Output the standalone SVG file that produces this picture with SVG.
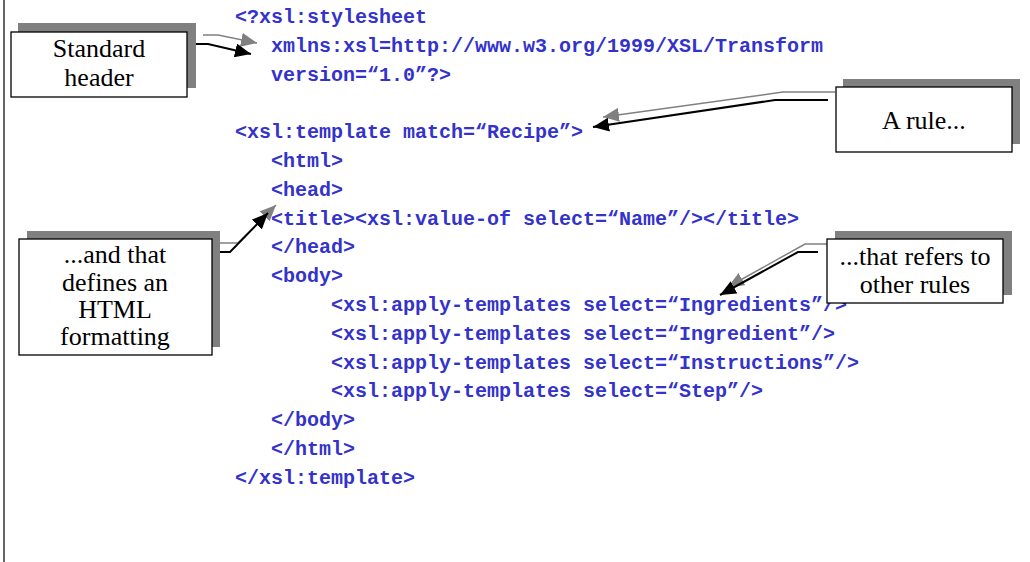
<svg xmlns="http://www.w3.org/2000/svg" width="1030" height="562" viewBox="0 0 1030 562">
  <style>
    .code { font-family: "Liberation Mono", "Courier New", monospace; font-weight: bold; font-size: 20px; fill: #3333cc; white-space: pre; }
    .shadow { fill: #808080; }
    .box { fill: #ffffff; stroke: #000000; stroke-width: 1.3; }
    .label { font-family: "Liberation Serif", "Times New Roman", serif; font-size: 26px; fill: #000000; text-anchor: middle; }
    .lnk-gray { fill: none; stroke: #808080; stroke-width: 1.5; marker-end: url(#headGray); }
    .lnk-black { fill: none; stroke: #000000; stroke-width: 2; marker-end: url(#headBlack); }
  </style>
  <defs>
    <marker id="headGray" markerUnits="userSpaceOnUse" markerWidth="18" markerHeight="14" refX="16" refY="7" orient="auto">
      <path d="M0,0 L16,7 L0,14 Z" fill="#808080"/>
    </marker>
    <marker id="headBlack" markerUnits="userSpaceOnUse" markerWidth="18" markerHeight="14" refX="16" refY="7" orient="auto">
      <path d="M0,0 L16,7 L0,14 Z" fill="#000000"/>
    </marker>
  </defs>

  <rect width="1030" height="562" fill="#ffffff"/>
  <!-- left frame edge -->
  <line x1="4" y1="0" x2="4" y2="562" stroke="#000000" stroke-width="1.2"/>

  <!-- stylesheet listing -->
  <g id="code">
    <text class="code" x="235" y="23">&lt;?xsl:stylesheet</text>
    <text class="code" x="271" y="51.8">xmlns:xsl=http://www.w3.org/1999/XSL/Transform</text>
    <text class="code" x="271" y="80.6">version=“1.0”?&gt;</text>
    <text class="code" x="235" y="138.2">&lt;xsl:template match=“Recipe”&gt;</text>
    <text class="code" x="271" y="167">&lt;html&gt;</text>
    <text class="code" x="271" y="195.8">&lt;head&gt;</text>
    <text class="code" x="271" y="224.6">&lt;title&gt;&lt;xsl:value-of select=“Name”/&gt;&lt;/title&gt;</text>
    <text class="code" x="271" y="253.4">&lt;/head&gt;</text>
    <text class="code" x="271" y="282.2">&lt;body&gt;</text>
    <text class="code" x="331" y="311">&lt;xsl:apply-templates select=“Ingredients”/&gt;</text>
    <text class="code" x="331" y="339.8">&lt;xsl:apply-templates select=“Ingredient”/&gt;</text>
    <text class="code" x="331" y="368.6">&lt;xsl:apply-templates select=“Instructions”/&gt;</text>
    <text class="code" x="331" y="397.4">&lt;xsl:apply-templates select=“Step”/&gt;</text>
    <text class="code" x="271" y="426.2">&lt;/body&gt;</text>
    <text class="code" x="271" y="455">&lt;/html&gt;</text>
    <text class="code" x="235" y="483.8">&lt;/xsl:template&gt;</text>
  </g>

  <!-- callout connectors: grey shadow line plus black line -->
  <g id="connectors">
    <path class="lnk-gray" d="M203,35 L218,35 L257,43"/>
    <path class="lnk-black" d="M196,44 L208,44 L251,54"/>

    <path class="lnk-gray" d="M835,92 L783,92 L603,117"/>
    <path class="lnk-black" d="M828,100 L775,100 L593,127"/>

    <path class="lnk-gray" d="M220,243 L238,243 L276,205"/>
    <path class="lnk-black" d="M212,252 L230,252 L268,213"/>

    <path class="lnk-gray" d="M827,244 L805,244 L728,287"/>
    <path class="lnk-black" d="M818,252 L798,252 L720,295"/>
  </g>

  <g id="standard-header">
    <rect class="shadow" x="18" y="23" width="178" height="65"/>
    <rect class="box" x="11" y="32" width="176" height="65"/>
    <text class="label" x="99" y="57">Standard</text>
    <text class="label" x="99" y="86">header</text>
  </g>

  <g id="a-rule">
    <rect class="shadow" x="843" y="79" width="177" height="65"/>
    <rect class="box" x="836" y="87" width="176" height="65"/>
    <text class="label" x="924" y="129">A rule...</text>
  </g>

  <g id="html-formatting">
    <rect class="shadow" x="27" y="231" width="193" height="116"/>
    <rect class="box" x="19" y="239" width="193" height="116"/>
    <text class="label" x="115" y="263">...and that</text>
    <text class="label" x="115" y="291">defines an</text>
    <text class="label" x="115" y="318">HTML</text>
    <text class="label" x="115" y="345">formatting</text>
  </g>

  <g id="other-rules">
    <rect class="shadow" x="835" y="231" width="177" height="64"/>
    <rect class="box" x="827" y="239" width="176" height="64"/>
    <text class="label" x="915" y="265">...that refers to</text>
    <text class="label" x="915" y="293">other rules</text>
  </g>
</svg>
